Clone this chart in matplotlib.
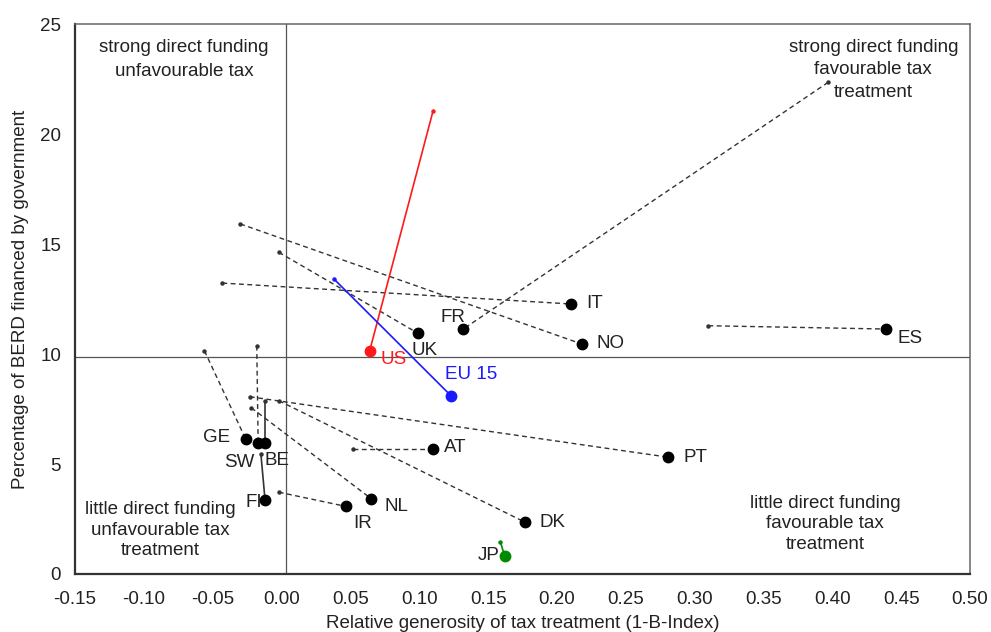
import numpy as np
import pandas as pd
import matplotlib
matplotlib.use("Agg")
import matplotlib.pyplot as plt

plt.rcParams['font.family'] = ['Liberation Sans', 'DejaVu Sans']

# country codes, current position and earlier position
countries = ["IT", "NO", "UK", "FR", "ES", "US", "EU 15", "GE", "SW", "BE",
             "FI", "AT", "PT", "DK", "NL", "IR", "JP"]
x_now = [0.210, 0.218, 0.099, 0.132, 0.439, 0.064, 0.123, -0.026, -0.017, -0.012,
         -0.012, 0.110, 0.281, 0.177, 0.065, 0.047, 0.162]
y_now = [12.28, 10.46, 10.95, 11.14, 11.14, 10.15, 8.11, 6.13, 5.97, 5.97,
         3.37, 5.67, 5.31, 2.35, 3.43, 3.07, 0.83]
x_old = [-0.043, -0.030, -0.002, 0.397, 0.310, 0.110, 0.038, -0.056, -0.018, -0.012,
         -0.015, 0.052, -0.023, -0.002, -0.022, -0.002, 0.159]
y_old = [13.23, 15.92, 14.63, 22.36, 11.29, 21.05, 13.42, 10.15, 10.38, 7.87,
         5.46, 5.67, 8.06, 7.88, 7.56, 3.72, 1.44]

mean_x = 0.003
mean_y = 9.85

xticks = [-0.15, -0.10, -0.05, 0.00, 0.05, 0.10, 0.15, 0.20, 0.25, 0.30, 0.35, 0.40, 0.45, 0.50]
yticks = [0, 5, 10, 15, 20, 25]

# drawing style per country: colour, line style, label offset in pixels (dx, dy up)
style = {
    "IT": ("black", "--", (24, 0)),
    "NO": ("black", "--", (29, 0)),
    "UK": ("black", "--", (7, -17)),
    "FR": ("black", "--", (-10, 12)),
    "ES": ("black", "--", (24, -9)),
    "US": ("#ff1a1a", "-", (24, -9)),
    "EU 15": ("#1a1aff", "-", (20, 21)),
    "GE": ("black", "--", (-29, 2)),
    "SW": ("black", "--", (-19, -20)),
    "BE": ("black", "-", (12, -18)),
    "FI": ("black", "-", (-11, -3)),
    "AT": ("black", "--", (22, 2)),
    "PT": ("black", "--", (27, 0)),
    "DK": ("black", "--", (27, 0)),
    "NL": ("black", "--", (25, -8)),
    "IR": ("black", "--", (16, -17)),
    "JP": ("#008a00", "-", (-16, 0)),
}

fig = plt.figure(figsize=(9.91, 6.32), dpi=100)
ax = fig.add_axes([0.0757, 0.0918, 0.9031, 0.8698])

ax.axhline(mean_y, color="#555555", lw=0.9, zorder=1)
ax.axvline(mean_x, color="#555555", lw=0.9, zorder=1)

for i, c in enumerate(countries):
    col, ls, off = style[c]
    line_col = col if col != "black" else "#333333"
    if ls == "--":
        ax.plot([x_old[i], x_now[i]], [y_old[i], y_now[i]], color=line_col, lw=1.0,
                dashes=(3.5, 2.5), zorder=2)
    else:
        ax.plot([x_old[i], x_now[i]], [y_old[i], y_now[i]], color=line_col, lw=1.2, zorder=2)
    ax.plot(x_old[i], y_old[i], 'o', color=line_col, markersize=2.2, zorder=3)
    ax.plot(x_now[i], y_now[i], 'o', color=col, markersize=7.5, zorder=4)
    lab_col = col if c in ("US", "EU 15") else "#222222"
    ax.annotate(c, (x_now[i], y_now[i]), xytext=off, textcoords="offset pixels",
                ha="center", va="center", fontsize=13.5, color=lab_col)

ax.text(0.122, 0.936, "strong direct funding\nunfavourable tax", transform=ax.transAxes,
        ha="center", va="center", fontsize=13.5, color="#222222", linespacing=1.6)
ax.text(0.892, 0.917, "strong direct funding\nfavourable tax\ntreatment", transform=ax.transAxes,
        ha="center", va="center", fontsize=13.5, color="#222222", linespacing=1.45)
ax.text(0.095, 0.080, "little direct funding\nunfavourable tax\ntreatment", transform=ax.transAxes,
        ha="center", va="center", fontsize=13.5, color="#222222", linespacing=1.25)
ax.text(0.838, 0.091, "little direct funding\nfavourable tax\ntreatment", transform=ax.transAxes,
        ha="center", va="center", fontsize=13.5, color="#222222", linespacing=1.25)

ax.set_xlim(-0.15, 0.50)
ax.set_ylim(0, 25)
ax.set_xticks(xticks)
ax.set_xticklabels(["%.2f" % v for v in xticks])
ax.set_yticks(yticks)
ax.tick_params(axis="both", length=0, labelsize=13.5, labelcolor="#222222")
ax.tick_params(axis="x", pad=12)
ax.tick_params(axis="y", pad=10)

for s in ["left", "bottom"]:
    ax.spines[s].set_color("#333333")
    ax.spines[s].set_linewidth(1.6)
for s in ["top", "right"]:
    ax.spines[s].set_color("#666666")
    ax.spines[s].set_linewidth(1.1)

ax.set_xlabel("Relative generosity of tax treatment (1-B-Index)", fontsize=13.5, color="#222222", labelpad=5)
ax.set_ylabel("Percentage of BERD financed by government", fontsize=13.5, color="#222222", labelpad=8)

fig.savefig("out.png", dpi=100)
